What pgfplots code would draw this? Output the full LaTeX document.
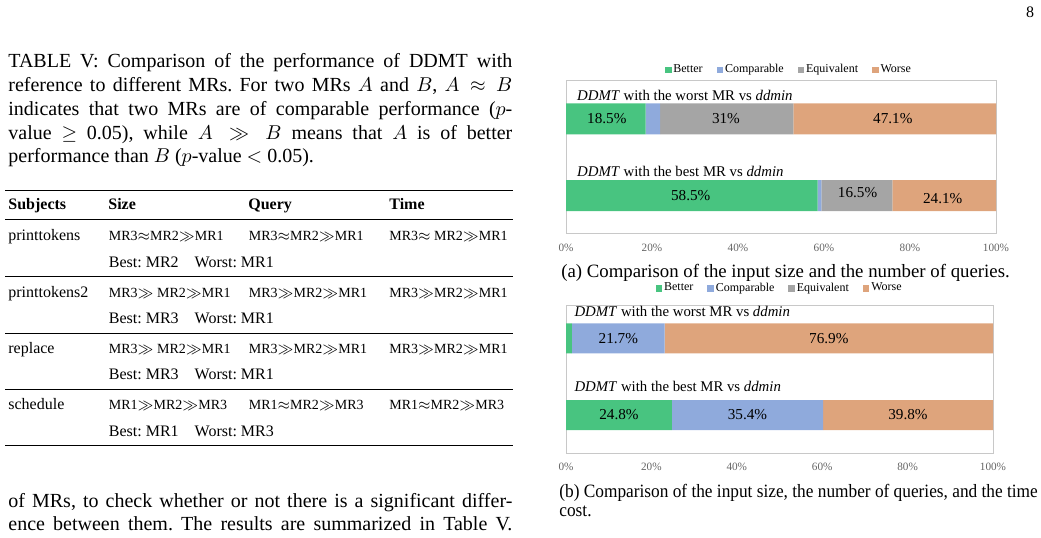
\documentclass[border=0pt]{standalone}
\usepackage{fontspec}
\setmainfont{Liberation Serif}
\usepackage{graphicx}
\usepackage{pgfplots}
\pgfplotsset{compat=1.18}
\definecolor{cBetter}{RGB}{72,196,128}
\definecolor{cComp}{RGB}{143,170,220}
\definecolor{cEquiv}{RGB}{165,165,165}
\definecolor{cWorse}{RGB}{222,164,124}
\definecolor{boxgray}{RGB}{200,200,200}
\definecolor{tickgray}{RGB}{100,100,100}
\newcommand{\body}{\fontsize{10}{12}\selectfont}
\newcommand{\tab}{\fontsize{8}{9.6}\selectfont}
\newcommand{\rel}{\fontsize{7}{8.4}\selectfont}
\newcommand{\bst}{\fontsize{8}{9.6}\selectfont}
\newcommand{\jl}[3]{\node[anchor=base west,inner sep=0,font=\body] at (#1,#2) {\hbox to 252pt{#3}};}
\frenchspacing
\tikzset{
  barlab/.style={font=\fontsize{7.6}{9}\selectfont, anchor=center, inner sep=0},
  rowlab/.style={font=\fontsize{7.4}{9}\selectfont, anchor=base west, inner sep=0},
}
\pgfplotsset{
  sqlegend/.style={legend image code/.code={\fill[##1] (0pt,-1.7pt) rectangle (3.4pt,1.7pt);}},
  mychart/.style={
    scale only axis, anchor=south west,
    xbar stacked,
    xmin=0, xmax=100,
    ytick=\empty, xtick={0,20,40,60,80,100},
    xticklabels={0\%,20\%,40\%,60\%,80\%,100\%},
    major tick length=0pt,
    axis line style={draw=boxgray},
    legend columns=4,
    legend style={draw=none, fill=none, inner sep=0pt, font=\fontsize{6}{7}\selectfont,
      /tikz/every even column/.append style={column sep=6pt},
      nodes={inner sep=0.9pt}},
    sqlegend,
    clip=false,
  },
}
\begin{document}
\begin{tikzpicture}
\useasboundingbox (0,0) rectangle (520.5pt,-268.5pt);
\begin{scope}[x=0.5pt,y=-0.5pt]
% page number
\node[anchor=base, inner sep=0, font=\fontsize{8}{9.6}\selectfont] at (1030,17) {8};
% table caption
\jl{8}{67.7}{TABLE V: Comparison of the performance of DDMT with}
\jl{8}{91.5}{reference to different MRs. For two MRs $A$ and $B$, $A \approx B$}
\jl{8}{115.3}{indicates that two MRs are of comparable performance ($p$-}
\jl{8}{139.1}{value $\geq$ 0.05), while $A \gg B$ means that $A$ is of better}
\node[anchor=base west,inner sep=0,font=\body] at (8,162.9) {performance than $B$ ($p$-value $<$ 0.05).};
% table rules
\draw[line width=0.8pt] (5,190.5) -- (513,190.5);
\draw[line width=0.5pt] (5,219.5) -- (513,219.5);
\draw[line width=0.5pt] (5,276.5) -- (513,276.5);
\draw[line width=0.5pt] (5,333) -- (513,333);
\draw[line width=0.5pt] (5,389) -- (513,389);
\draw[line width=0.8pt] (5,445.5) -- (513,445.5);
% header
\begin{scope}[every node/.style={anchor=base west, inner sep=0, font=\tab\bfseries}]
\node at (8,209.5) {Subjects};
\node at (108,209.5) {Size};
\node at (248,209.5) {Query};
\node at (389,209.5) {Time};
\end{scope}
% rows
\begin{scope}[every node/.style={anchor=base west, inner sep=0, font=\tab}]
\node at (8,240.5) {printtokens};
\node at (8,297) {printtokens2};
\node at (8,353) {replace};
\node at (8,409.5) {schedule};
\end{scope}
\begin{scope}[every node/.style={anchor=base west, inner sep=0, font=\rel}]
\node at (108.5,240.5) {MR3$\approx$MR2$\gg$MR1};
\node at (248.5,240.5) {MR3$\approx$MR2$\gg$MR1};
\node at (389,240.5) {MR3$\approx$ MR2$\gg$MR1};
\node at (108.5,297) {MR3$\gg$ MR2$\gg$MR1};
\node at (248.5,297) {MR3$\gg$MR2$\gg$MR1};
\node at (389,297) {MR3$\gg$MR2$\gg$MR1};
\node at (108.5,353) {MR3$\gg$ MR2$\gg$MR1};
\node at (248.5,353) {MR3$\gg$MR2$\gg$MR1};
\node at (389,353) {MR3$\gg$MR2$\gg$MR1};
\node at (108.5,409.5) {MR1$\gg$MR2$\gg$MR3};
\node at (248.5,409.5) {MR1$\approx$MR2$\gg$MR3};
\node at (389,409.5) {MR1$\approx$MR2$\gg$MR3};
\end{scope}
\begin{scope}[every node/.style={anchor=base west, inner sep=0, font=\bst}]
\node at (108.5,267) {Best: MR2\quad Worst: MR1};
\node at (108.5,323.5) {Best: MR3\quad Worst: MR1};
\node at (108.5,379.5) {Best: MR3\quad Worst: MR1};
\node at (108.5,436) {Best: MR1\quad Worst: MR3};
\end{scope}
% body text bottom
\jl{8}{507}{of MRs, to check whether or not there is a significant differ-}
\jl{8}{530.5}{ence between them. The results are summarized in Table V.}
% subcaptions
\node[anchor=base, inner sep=0, font=\fontsize{9.4}{11}\selectfont] at (785.5,277) {(a) Comparison of the input size and the number of queries.};
\node[anchor=base west, inner sep=0, font=\fontsize{9.4}{11}\selectfont] at (559,497) {\scalebox{0.92}[1]{(b) Comparison of the input size, the number of queries, and the time}};
\node[anchor=base west, inner sep=0, font=\fontsize{9.4}{11}\selectfont] at (559,516) {\scalebox{0.92}[1]{cost.}};
\end{scope}

% chart (a)
\begin{axis}[mychart,
  at={(283pt,-116.5pt)}, width=215pt, height=76.5pt,
  bar width=15.5pt, ymin=-0.485, ymax=1.505,
  xticklabel style={font=\fontsize{5.6}{6}\selectfont, text=tickgray, anchor=center, yshift=-7.5pt},
  legend style={at={(0.518,1)}, anchor=center, yshift=5pt},
  after end axis/.code={
    \node[rowlab] at (axis cs:2.5,1.235) {\textit{DDMT} with the worst MR vs \textit{ddmin}};
    \node[rowlab] at (axis cs:2.5,0.256) {\textit{DDMT} with the best MR vs \textit{ddmin}};
    \node[barlab] at (axis cs:9.5,1) {18.5\%};
    \node[barlab] at (axis cs:37.2,1) {31\%};
    \node[barlab] at (axis cs:76,1) {47.1\%};
    \node[barlab] at (axis cs:29,0) {58.5\%};
    \node[barlab] at (axis cs:67.8,0.04) {16.5\%};
    \node[barlab] at (axis cs:87.6,-0.04) {24.1\%};
  },
]
\addplot[fill=cBetter, draw=none] coordinates {(18.5,1) (58.5,0)};
\addplot[fill=cComp, draw=none] coordinates {(3.4,1) (0.9,0)};
\addplot[fill=cEquiv, draw=none] coordinates {(31,1) (16.5,0)};
\addplot[fill=cWorse, draw=none] coordinates {(47.1,1) (24.1,0)};
\legend{Better, Comparable, Equivalent, Worse}
\end{axis}

% chart (b)
\begin{axis}[mychart,
  at={(283pt,-226.5pt)}, width=213.5pt, height=74pt,
  bar width=15pt, ymin=-0.495, ymax=1.434,
  xticklabel style={font=\fontsize{5.6}{6}\selectfont, text=tickgray, anchor=center, yshift=-6.85pt},
  legend style={at={(0.5,1)}, anchor=center, yshift=8.25pt},
  after end axis/.code={
    \node[rowlab] at (axis cs:1.9,1.29) {\textit{DDMT} with the worst MR vs \textit{ddmin}};
    \node[rowlab] at (axis cs:1.9,0.304) {\textit{DDMT} with the best MR vs \textit{ddmin}};
    \node[barlab] at (axis cs:12.25,1) {21.7\%};
    \node[barlab] at (axis cs:61.55,1) {76.9\%};
    \node[barlab] at (axis cs:12.4,0) {24.8\%};
    \node[barlab] at (axis cs:42.5,0) {35.4\%};
    \node[barlab] at (axis cs:80.1,0) {39.8\%};
  },
]
\addplot[fill=cBetter, draw=none] coordinates {(1.4,1) (24.8,0)};
\addplot[fill=cComp, draw=none] coordinates {(21.7,1) (35.4,0)};
\addplot[fill=cEquiv, draw=none] coordinates {(0,1) (0,0)};
\addplot[fill=cWorse, draw=none] coordinates {(76.9,1) (39.8,0)};
\legend{Better, Comparable, Equivalent, Worse}
\end{axis}
\end{tikzpicture}
\end{document}
